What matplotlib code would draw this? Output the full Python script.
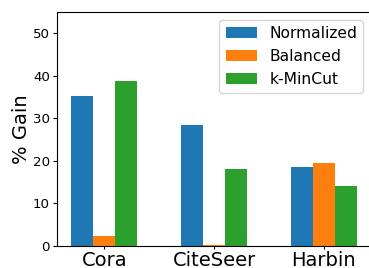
import numpy as np
import matplotlib
matplotlib.use('Agg')
import matplotlib.pyplot as plt

datasets = ['Cora', 'CiteSeer', 'Harbin']
normalized = [35.3, 28.5, 18.6]
balanced = [2.4, 0.3, 19.6]
kmincut = [38.8, 18.1, 14.2]

x = np.arange(len(datasets))
w = 0.2

fig = plt.figure(figsize=(3.69, 2.68), dpi=100)
ax = fig.add_axes([0.1545, 0.082, 0.851, 0.873])

ax.bar(x - w, normalized, w, label='Normalized', color='#1f77b4')
ax.bar(x, balanced, w, label='Balanced', color='#ff7f0e')
ax.bar(x + w, kmincut, w, label='k-MinCut', color='#2ca02c')

ax.set_ylim(0, 55)
ax.set_yticks([0, 10, 20, 30, 40, 50])
ax.set_xticks(x)
ax.set_xticklabels(datasets, fontsize=14)
ax.tick_params(axis='y', labelsize=9.6, length=3, pad=2.2)
ax.tick_params(axis='x', length=2.5, pad=1)
ax.set_ylabel('% Gain', fontsize=14, labelpad=1.5)
ax.legend(loc='upper right', fontsize=11.2)

fig.savefig('out.png', dpi=100)
